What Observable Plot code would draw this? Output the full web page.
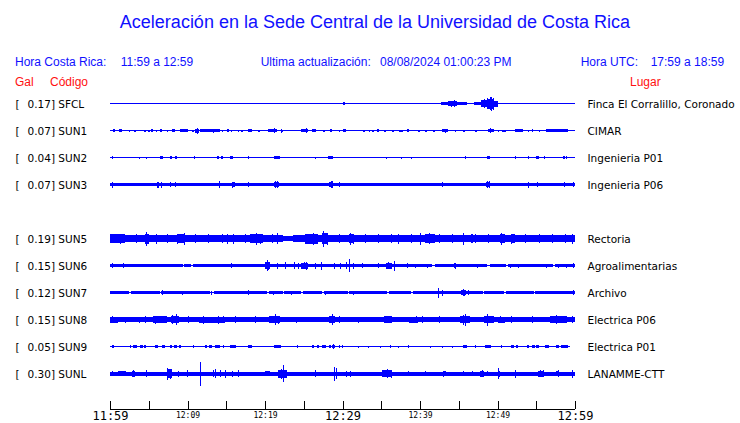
<!DOCTYPE html>
<html>
<head>
<meta charset="utf-8">
<script src="https://cdn.jsdelivr.net/npm/d3@7"></script>
<script src="https://cdn.jsdelivr.net/npm/@observablehq/plot@0.6"></script>
<style>
  html, body { margin: 0; padding: 0; background: #fff; }
  #wrap { width: 740px; }
  #head { position: relative; width: 740px; height: 90px; font-family: "Liberation Sans", Arial, sans-serif; }
  #head span { position: absolute; white-space: pre; line-height: 1; }
  .t { font-size: 18px; color: #1010ff; }
  .h { font-size: 12px; color: #1010ff; }
  .r { font-size: 12px; color: #ff1010; }
  svg { display: block; }
</style>
</head>
<body>
<div id="wrap">
  <div id="head">
    <span class="t" style="left:0;width:750px;text-align:center;top:12.8px">Aceleración en la Sede Central de la Universidad de Costa Rica</span>
    <span class="h" style="left:15px;top:55.5px">Hora Costa Rica:</span>
    <span class="h" style="left:120.7px;top:55.5px">11:59 a 12:59</span>
    <span class="h" style="left:260.7px;top:55.5px">Ultima actualización:</span>
    <span class="h" style="left:380px;top:55.5px">08/08/2024 01:00:23 PM</span>
    <span class="h" style="left:580.7px;top:55.5px">Hora UTC:</span>
    <span class="h" style="left:650.7px;top:55.5px">17:59 a 18:59</span>
    <span class="r" style="left:15px;top:75.5px">Gal</span>
    <span class="r" style="left:50px;top:75.5px">Código</span>
    <span class="r" style="left:630px;top:75.5px">Lugar</span>
  </div>
  <div id="chart"></div>
</div>
<script>
// ---- station metadata ----
const codes  = ["SFCL","SUN1","SUN2","SUN3","SUN5","SUN6","SUN7","SUN8","SUN9","SUNL"];
const slots  = [0,1,2,3,5,6,7,8,9,10];
const gals   = ["0.17","0.07","0.04","0.07","0.19","0.15","0.12","0.15","0.05","0.30"];
const places = ["Finca El Corralillo, Coronado","CIMAR","Ingenieria P01","Ingenieria P06","Rectoria","Agroalimentarias","Archivo","Electrica P06","Electrica P01","LANAMME-CTT"];

// ---- time axis (minutes after 11:59) ----
const tickMinutes = [0,5,10,15,20,25,30,35,40,45,50,55,60];
const bigTickLabels = [[0,"11:59"],[30,"12:29"],[60,"12:59"]];
const smallTickLabels = [[10,"12:09"],[20,"12:19"],[40,"12:39"],[50,"12:49"]];

// ---- trace envelopes read from the record: band [start,end,half], bursts [start,end,half], spikes [minute,half] ----
const SFCL_band = [[0,60,0.5]];
const SFCL_bursts = [[30.1,30.3,1.5],[42.7,43.6,1.3],[43.6,44.8,2.5],[44.8,46.0,1.3],[47.0,47.9,1.2],[47.9,48.6,3.5],[48.6,49.6,5],[49.6,50.0,3],[52.0,52.3,0.9]];
const SFCL_spikes = [[44.0,3],[44.4,3.2],[48.2,4.5],[48.7,5.5],[49.0,6.5],[49.2,7],[49.4,6]];

const SUN1_band = [[0,60,0.5]];
const SUN1_bursts = [[0.4,0.6,1.2],[1.1,1.5,1.2],[2.4,2.6,1],[3.1,3.3,1],[4.4,4.6,1],[4.9,5.1,1],[5.3,5.6,1.2],[5.9,6.1,1],[6.4,6.7,1.2],[7.3,7.5,1],[8.0,8.4,1.2],[9.0,10.1,1.2],[10.6,10.8,1],[11.0,11.5,2],[11.6,14.2,1.4],[14.4,14.6,1],[15.1,15.3,1.2],[15.6,15.8,1],[16.5,16.7,1],[16.9,17.2,1],[17.8,18.3,1.2],[19.1,19.3,1],[20.4,21.5,1.8],[22.1,22.3,1],[24.7,25.6,1.6],[26.0,26.6,1.2],[27.5,27.7,1],[28.4,28.7,1.2],[29.5,29.7,1],[30.0,30.5,1.2],[32.7,32.9,1],[33.4,33.6,1],[33.8,34.0,1],[34.5,34.7,1.2],[35.4,35.6,1],[36.4,36.6,1],[37.3,37.5,1],[37.6,37.8,1],[38.3,38.6,1.2],[39.8,40.0,1],[40.7,40.9,1],[41.7,41.9,1],[42.9,43.6,1.4],[44.5,44.7,1],[45.6,45.8,1],[47.1,47.3,1],[48.8,49.6,1.6],[50.0,50.2,1],[50.6,50.8,1],[50.9,51.1,1],[52.3,53.3,1.4],[53.9,54.1,1],[54.4,54.6,1.2],[55.3,55.5,1],[56.3,59.1,1.4]];
const SUN1_spikes = [[11.2,3],[13.3,2],[21.2,2.5],[22.1,2],[25.3,2.2],[43.2,2],[49.0,2.2],[58.9,1.8]];

const SUN2_band = [[0,60,0.5]];
const SUN2_bursts = [[0.2,0.45,1.5],[6.5,6.8,1.5],[7.7,8.0,1.3],[8.4,8.65,1.3],[13.85,14.05,1.5],[14.3,14.6,1.5],[15.5,15.9,1.5],[21.2,21.9,1.5],[28.1,28.8,1.5],[35.55,35.75,1],[48.6,49.0,1.5],[55.0,55.3,1.2],[58.4,58.65,1.2]];
const SUN2_spikes = [[3.8,1],[4.6,1],[10.9,1.2],[17.8,1.2],[26.5,1],[37.5,1],[38.8,1],[45.8,1.2],[52.3,1.2],[53.9,1.2],[56.0,1.2],[58.9,1.2]];

const SUN3_band = [[0,60,1.8]];
const SUN3_bursts = [[15.7,16.0,2.6],[21.1,21.8,2.6],[28.3,28.8,2.6],[48.5,49.0,2.6]];
const SUN3_spikes = [[0.3,3],[6.0,3],[6.2,3],[6.6,3],[7.7,2.8],[8.4,2.8],[14.0,3.2],[15.8,3],[16.0,2.8],[17.8,2.6],[21.3,3.8],[21.5,3.5],[28.5,3.6],[28.6,3.2],[29.6,2.6],[42.9,2.3],[48.7,3.5],[48.9,3.2],[53.9,3],[55.1,2.5],[58.6,2.6],[59.8,2.6]];

const SUN5_band = [[0,22.3,3.3],[22.3,23.6,2.2],[23.6,60,3.3]];
const SUN5_bursts = [[0,1.9,4.3],[4.5,5.0,5],[8.6,9.6,4.5],[18.1,19.8,4.5],[25.2,26.9,5],[27.4,28.0,5.5],[30.8,31.3,4.5],[40.6,41.9,4.8],[46.6,46.9,4.5],[50.3,51.0,4.5],[51.8,52.2,4.2]];
const SUN5_spikes = [[0.2,4.5],[1.3,5],[3.4,4.3],[4.7,7],[5.9,5],[7.3,4.3],[8.6,5],[9.5,6],[11.0,4.3],[12.7,4.5],[14.4,4.2],[15.1,5],[15.9,5],[17.4,4.3],[18.9,6],[19.4,5],[20.9,4.3],[21.5,5.5],[25.2,5],[26.2,6],[27.5,8],[28.0,6],[29.5,4.5],[31.0,6],[31.4,5],[32.9,4.5],[34.6,4.5],[36.3,4.5],[37.2,5],[38.9,4.5],[40.0,6],[41.1,5.5],[42.4,4.3],[44.1,4.5],[45.6,6],[47.1,4.5],[48.8,4.5],[50.5,6],[51.8,5],[53.5,4.5],[55.3,4.5],[57.0,4.5],[58.7,4.5],[59.6,5]];

const SUN6_band = [[0,9.4,1.6],[9.4,9.6,0.5],[9.6,10.5,1.6],[10.5,10.7,0.5],[10.7,41.6,1.6],[41.6,41.9,0.5],[41.9,48.7,1.6],[48.7,49.0,0.5],[49.0,51.1,1.6],[51.1,51.4,0.5],[51.4,57.2,1.6],[57.2,57.4,0.5],[57.4,60,1.6]];
const SUN6_bursts = [[20.0,20.6,3.5],[24.6,25.5,3],[35.6,36.4,3]];
const SUN6_spikes = [[0.3,2.5],[1.7,2.5],[3.7,1.8],[6.9,1.8],[15.6,2.8],[20.2,5.5],[20.4,4],[21.5,3],[22.6,3.5],[23.7,3.5],[24.3,3],[25.0,3.5],[25.3,4],[26.5,3],[27.2,4],[28.9,3],[29.7,3],[30.4,3.5],[30.8,6.5],[31.4,3],[32.5,2.5],[34.6,2.5],[35.7,3],[35.9,3.5],[36.6,5],[38.3,2.5],[39.4,2],[40.9,2],[44.4,2.5],[44.5,3],[47.3,2],[51.6,2],[52.7,2],[56.3,2],[57.8,2],[58.9,2],[59.7,2.5]];

const SUN7_band = [[0,2.5,1.5],[2.5,2.7,0.5],[2.7,6.4,1.5],[6.4,6.6,0.5],[6.6,12.9,1.5],[12.9,13.1,0.5],[13.1,13.2,1.5],[13.2,13.4,0.5],[13.4,20.3,1.5],[20.3,20.5,0.5],[20.5,22.3,1.5],[22.3,22.5,0.5],[22.5,24.7,1.5],[24.7,24.9,0.5],[24.9,27.4,1.5],[27.4,27.6,0.5],[27.6,30.7,1.5],[30.7,30.9,0.5],[30.9,35.8,1.5],[35.8,36.0,0.5],[36.0,38.9,1.5],[38.9,39.1,0.5],[39.1,48.1,1.5],[48.1,48.3,0.5],[48.3,50.9,1.5],[50.9,51.1,0.5],[51.1,54.7,1.5],[54.7,54.9,0.5],[54.9,60,1.5]];
const SUN7_bursts = [[45.3,45.9,2.4]];
const SUN7_spikes = [[6.75,2.8],[9.3,2],[13.0,2],[17.8,2.2],[21.0,2],[23.3,2],[27.7,2],[31.4,2],[42.3,5],[42.9,3],[45.5,3.5],[45.7,3],[46.2,2.5],[59.8,2.5]];

const SUN8_band = [[0,60,2.5]];
const SUN8_bursts = [[0,1.0,3],[5.5,7.4,3.1],[7.9,8.9,3.6],[11.5,14.8,3],[20.5,21.9,3.6],[28.2,29.0,3.6],[35.3,36.4,3.1],[38.6,39.7,3],[45.1,46.4,3.6],[48.2,49.5,3.3],[50.0,51.0,3],[56.8,59.0,3.1]];
const SUN8_spikes = [[0.2,3.5],[1.9,3],[3.7,3],[4.5,3.2],[5.8,4],[8.0,4.5],[8.5,5.5],[10.1,3.2],[12.0,4],[13.9,4],[14.6,3.5],[16.1,3.2],[18.7,3.2],[21.3,5.5],[21.7,4],[24.0,3],[28.6,5.5],[29.5,3.5],[32.0,3],[36.1,3.5],[39.5,3.5],[40.2,3.5],[42.4,3.5],[45.6,5],[45.8,6],[48.6,6],[50.3,3.5],[51.8,3.5],[54.4,3.5],[57.6,4.5],[59.6,3.5]];

const SUN9_band = [[0,59.3,0.5]];
const SUN9_bursts = [[0.2,0.55,1.3],[3.0,3.45,1.3],[3.9,4.2,1.3],[4.4,4.7,1.3],[5.8,6.2,1.3],[6.7,7.1,1.3],[7.7,8.0,1.3],[8.3,8.7,1.3],[8.9,9.2,1.3],[12.3,12.5,1.3],[12.8,13.1,1.3],[13.5,14.2,1.3],[15.5,16.3,1.3],[17.8,18.3,1.3],[21.1,22.1,1.3],[26.0,26.3,1.3],[26.7,27.0,1.3],[27.4,27.9,1.3],[28.2,28.5,1.3],[28.7,29.0,1.5],[45.6,46.0,1.3],[48.4,49.2,1.3],[51.8,52.1,1.3],[52.4,52.7,1.3],[53.8,54.1,1.3],[54.5,54.9,1.3],[55.0,55.3,1.3],[56.1,56.6,1.3],[57.6,57.9,1.3],[58.2,59.1,1.3]];
const SUN9_spikes = [[2.6,1.2],[10.75,1.2],[14.6,1.2],[24.1,1.2],[28.8,2.5],[29.5,1.2],[29.9,1.2],[32.0,1],[33.3,1],[34.8,1],[36.1,1.2],[37.2,1],[38.5,1.2],[41.3,1],[42.8,1],[44.1,1],[47.1,1.2],[50.5,1.2]];

const SUNL_band = [[0,60,2]];
const SUNL_bursts = [[1.0,2.0,2.5],[2.8,3.2,3],[7.3,8.0,4.5],[20.0,20.6,2.6],[21.7,22.8,4],[35.1,36.3,3.5],[43.0,43.3,2.6],[47.7,48.2,3],[50.0,50.3,3],[55.2,56.0,3],[57.6,57.9,2.8]];
const SUNL_spikes = [[0.2,2.8],[1.4,2.6],[3.0,3.8],[4.7,3.2],[7.4,6],[7.7,5],[8.8,3],[9.9,3.2],[11.65,12],[13.3,3.5],[13.5,4.5],[14.2,3.2],[14.9,4],[15.7,3],[16.5,3.2],[20.3,2.8],[22.1,5],[22.3,8.3],[26.5,3.2],[28.9,7],[29.1,5.5],[30.4,3],[31.0,3],[35.7,4.5],[36.3,4],[38.5,2.8],[40.6,2.8],[43.0,3],[45.6,2.8],[46.7,2.8],[48.0,3.2],[48.6,2.8],[50.0,5.5],[52.2,4],[55.5,3.2],[55.9,3.5],[57.8,3.5],[59.6,4]];

const bands  = [SFCL_band,SUN1_band,SUN2_band,SUN3_band,SUN5_band,SUN6_band,SUN7_band,SUN8_band,SUN9_band,SUNL_band];
const bursts = [SFCL_bursts,SUN1_bursts,SUN2_bursts,SUN3_bursts,SUN5_bursts,SUN6_bursts,SUN7_bursts,SUN8_bursts,SUN9_bursts,SUNL_bursts];
const spikes = [SFCL_spikes,SUN1_spikes,SUN2_spikes,SUN3_spikes,SUN5_spikes,SUN6_spikes,SUN7_spikes,SUN8_spikes,SUN9_spikes,SUNL_spikes];

// ---- build tables ----
const gain = 1 / 27; // trace amplitude units per slot
const rects = [], rules = [];
codes.forEach((c, i) => {
  const s = slots[i];
  for (const [a, b, h] of bands[i].concat(bursts[i])) rects.push({x1: a, x2: b, y1: s - h * gain, y2: s + h * gain});
  for (const [m, h] of spikes[i]) rules.push({x: m, y1: s - h * gain, y2: s + h * gain});
});
const labels = codes.map((c, i) => ({slot: slots[i], left: `${gals[i]}] ${c}`, right: places[i]}));

const axisSlot = 11.333, tickTopSlot = 11.02;
const blue = "#0000ff";

const chart = Plot.plot({
  width: 740,
  height: 333,
  marginLeft: 110, marginRight: 165, marginTop: 0, marginBottom: 14,
  x: {domain: [0, 60], range: [110, 575], axis: null},
  y: {domain: [0, 10], range: [13.5, 283.5], axis: null},
  style: {background: "white"},
  marks: [
    Plot.rect(rects, {x1: "x1", x2: "x2", y1: "y1", y2: "y2", fill: blue, shapeRendering: "crispEdges"}),
    Plot.ruleX(rules, {x: "x", y1: "y1", y2: "y2", stroke: blue, strokeWidth: 1, shapeRendering: "crispEdges"}),
    // station labels
    Plot.text(labels, {x: 0, y: "slot", text: () => "[", dx: -95, textAnchor: "start", fontFamily: "DejaVu Sans", fontSize: 10.5, fill: "black", dy: 0.5}),
    Plot.text(labels, {x: 0, y: "slot", text: "left", dx: -83, textAnchor: "start", fontFamily: "DejaVu Sans", fontSize: 10.5, fill: "black", dy: 0.5}),
    Plot.text(labels, {x: 60, y: "slot", text: "right", dx: 12, textAnchor: "start", fontFamily: "DejaVu Sans", fontSize: 10.5, fill: "black", dy: 0.5}),
    // time axis
    Plot.ruleY([axisSlot], {x1: 0, x2: 60, stroke: "black", strokeWidth: 1, shapeRendering: "crispEdges"}),
    Plot.ruleX(tickMinutes, {x: d => d, y1: tickTopSlot, y2: axisSlot, stroke: "black", strokeWidth: 1, shapeRendering: "crispEdges"}),
    Plot.text(bigTickLabels, {x: d => d[0], y: axisSlot, text: d => d[1], dy: 10.3, lineAnchor: "bottom", fontFamily: "DejaVu Sans Mono", fontSize: 12, fill: "black"}),
    Plot.text(smallTickLabels, {x: d => d[0], y: axisSlot, text: d => d[1], dy: 8.3, lineAnchor: "bottom", fontFamily: "DejaVu Sans Mono", fontSize: 8, fill: "black"})
  ]
});
document.getElementById("chart").appendChild(chart);
</script>
</body>
</html>
